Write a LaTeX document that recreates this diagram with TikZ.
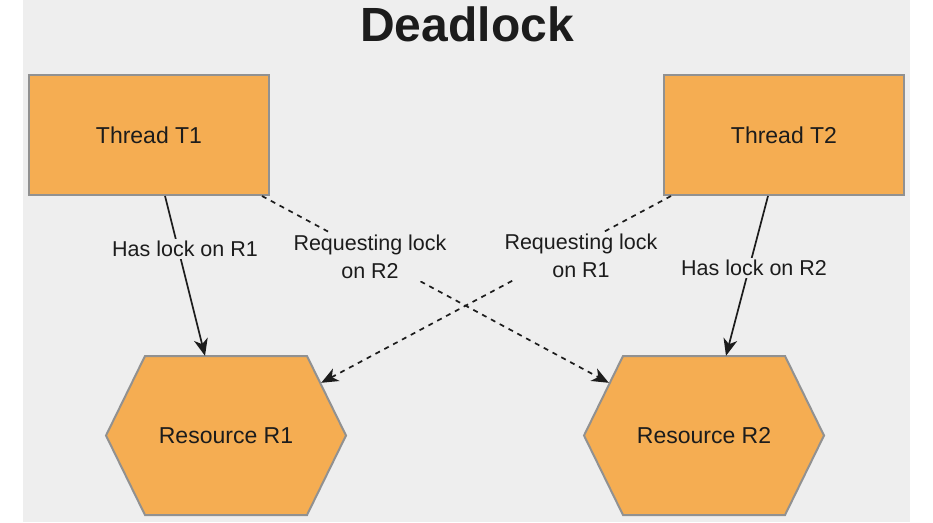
\documentclass[tikz,border=0pt]{standalone}
\usepackage{fontspec}
\setmainfont{Liberation Sans}
\usetikzlibrary{arrows.meta,calc}
\definecolor{bg}{HTML}{EEEEEE}
\definecolor{orangefill}{HTML}{F5AD52}
\definecolor{bordergray}{HTML}{919191}
\definecolor{ink}{HTML}{1C1C1C}
\newcommand\hexagonat[1]{%
  \draw[hexline] ($(#1)+(-120,0)$) -- ($(#1)+(-81,-79.5)$) -- ($(#1)+(81,-79.5)$)
    -- ($(#1)+(120,0)$) -- ($(#1)+(81,79.5)$) -- ($(#1)+(-81,79.5)$) -- cycle;}
\begin{document}
\begin{tikzpicture}[x=1pt,y=-1pt,
  thread/.style={draw=bordergray, line width=2pt, fill=orangefill, minimum width=240pt,
    minimum height=120pt, inner sep=0pt, font=\fontsize{23}{27}\selectfont, text=ink},
  resbox/.style={minimum width=240pt, minimum height=159pt, inner sep=0pt,
    font=\fontsize{23}{27}\selectfont, text=ink},
  hexline/.style={draw=bordergray, line width=2pt, fill=orangefill, line join=miter},
  holds/.style={draw=ink, line width=1.7pt, -{Stealth[length=17pt,width=14pt,inset=5pt]}},
  wants/.style={holds, dash pattern=on 5pt off 5pt},
  lbl/.style={fill=bg, inner sep=2pt, text=ink, align=center,
    font=\fontsize{21.5}{28}\selectfont}]
\useasboundingbox (0,0) rectangle (933,522);
\fill[white] (0,0) rectangle (933,522);
\fill[bg] (23,0) rectangle (910,522);
\node[anchor=base, text=ink, font=\fontsize{48}{52}\selectfont\bfseries] (title) at (467,41.5) {Deadlock};
\node[thread] (t1) at (149,135) {Thread T1};
\node[thread] (t2) at (784,135) {Thread T2};
\coordinate (r1c) at (226,435.5);
\coordinate (r2c) at (704,435.5);
\hexagonat{r1c}
\hexagonat{r2c}
\node[resbox] (r1) at (r1c) {Resource R1};
\node[resbox] (r2) at (r2c) {Resource R2};
\draw[holds] ([xshift=16pt]t1.south) -- ([xshift=-21pt]r1.north);
\draw[holds] ([xshift=-16pt]t2.south) -- ([xshift=22pt]r2.north);
\draw[wants] ([xshift=-8pt]t1.south east) -- ([xshift=25pt,yshift=-27pt]r2.north west);
\draw[wants] ([xshift=8pt]t2.south west) -- ([xshift=-25pt,yshift=-27pt]r1.north east);
\node[lbl] (l1) at (185,249) {Has lock on R1};
\node[lbl] (l2) at (370,257) {Requesting lock\\on R2};
\node[lbl] (l3) at (581,256) {Requesting lock\\on R1};
\node[lbl] (l4) at (754,268) {Has lock on R2};
\end{tikzpicture}
\end{document}
